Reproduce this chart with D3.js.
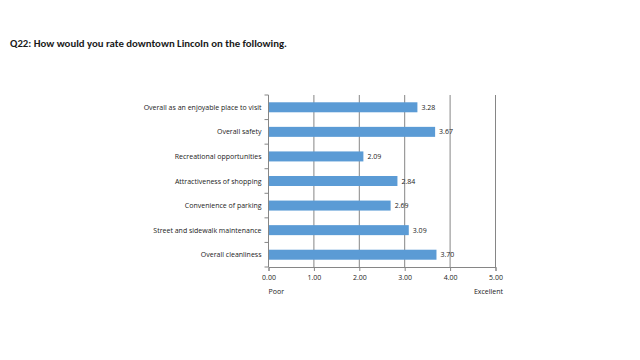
<!DOCTYPE html>
<html><head><meta charset="utf-8">
<script src="https://cdn.jsdelivr.net/npm/d3@7"></script>
<style>body{margin:0;background:#fff}svg{display:block}</style>
</head><body>
<svg id="c" width="640" height="360"></svg>
<script>
const categories = ["Overall as an enjoyable place to visit","Overall safety","Recreational opportunities","Attractiveness of shopping","Convenience of parking","Street and sidewalk maintenance","Overall cleanliness"];
const values = [3.28, 3.67, 2.09, 2.84, 2.69, 3.09, 3.70];
const tickValues = [0,1,2,3,4,5];
const title = "Q22: How would you rate downtown Lincoln on the following.";
const lowLabel = "Poor", highLabel = "Excellent";

const svg = d3.select("#c");
const pL = 268.5, pR = 495.5, pT = 95, pB = 267;
const fs = 7;
const x = d3.scaleLinear().domain([0,5]).range([pL,pR]);
const yb = d3.scaleBand().domain(categories).range([pT,pB]);

svg.append("text").attr("x",10).attr("y",47).attr("font-family","Carlito, 'Open Sans', sans-serif")
  .attr("font-weight","bold").attr("font-size",9).attr("textLength",277).attr("lengthAdjust","spacingAndGlyphs")
  .attr("fill","#1a1a1a").text(title);

// gridlines
svg.append("g").selectAll("line").data(tickValues.slice(1)).join("line")
  .attr("x1",d=>x(d)).attr("x2",d=>x(d)).attr("y1",pT).attr("y2",pB)
  .attr("stroke","#868686").attr("stroke-width",1);

// bars
svg.append("g").selectAll("rect").data(values).join("rect")
  .attr("x",x(0)).attr("y",(d,i)=>yb(categories[i])+yb.bandwidth()/2-5)
  .attr("width",d=>x(d)-x(0)).attr("height",10).attr("fill","#5b9bd5");

// value labels
svg.append("g").selectAll("text").data(values).join("text")
  .attr("x",d=>x(d)+4).attr("y",(d,i)=>yb(categories[i])+yb.bandwidth()/2+2.5)
  .attr("font-family","'Open Sans', sans-serif").attr("font-size",fs).attr("fill","#222")
  .text(d=>d.toFixed(2));

// x axis
const xa = svg.append("g").attr("transform",`translate(0,${pB})`)
  .call(d3.axisBottom(x).tickValues(tickValues).tickFormat(d3.format(".2f")).tickSizeOuter(0).tickSize(4));
xa.select(".domain").attr("stroke","#868686");
xa.selectAll(".tick line").attr("stroke","#868686");
xa.selectAll("text").attr("font-family","'Open Sans', sans-serif").attr("font-size",fs).attr("fill","#222").attr("dy","0.85em");

// y axis
const ya = svg.append("g").attr("transform",`translate(${pL},0)`);
ya.append("line").attr("x1",0).attr("x2",0).attr("y1",pT).attr("y2",pB).attr("stroke","#868686");
const bounds = categories.map(c=>yb(c)).concat([pB]);
ya.selectAll("line.t").data(bounds).join("line").attr("class","t")
  .attr("x1",-4).attr("x2",0).attr("y1",d=>d).attr("y2",d=>d).attr("stroke","#868686");
ya.selectAll("text").data(categories).join("text")
  .attr("x",-7).attr("y",c=>yb(c)+yb.bandwidth()/2+2.5).attr("text-anchor","end")
  .attr("font-family","'Open Sans', sans-serif").attr("font-size",fs).attr("fill","#222").text(c=>c);

svg.append("text").attr("x",pL).attr("y",294).attr("font-family","'Open Sans', sans-serif")
  .attr("font-size",fs).attr("fill","#222").text(lowLabel);
svg.append("text").attr("x",503).attr("y",294).attr("text-anchor","end").attr("font-family","'Open Sans', sans-serif")
  .attr("font-size",fs).attr("fill","#222").text(highLabel);
</script>
</body></html>
